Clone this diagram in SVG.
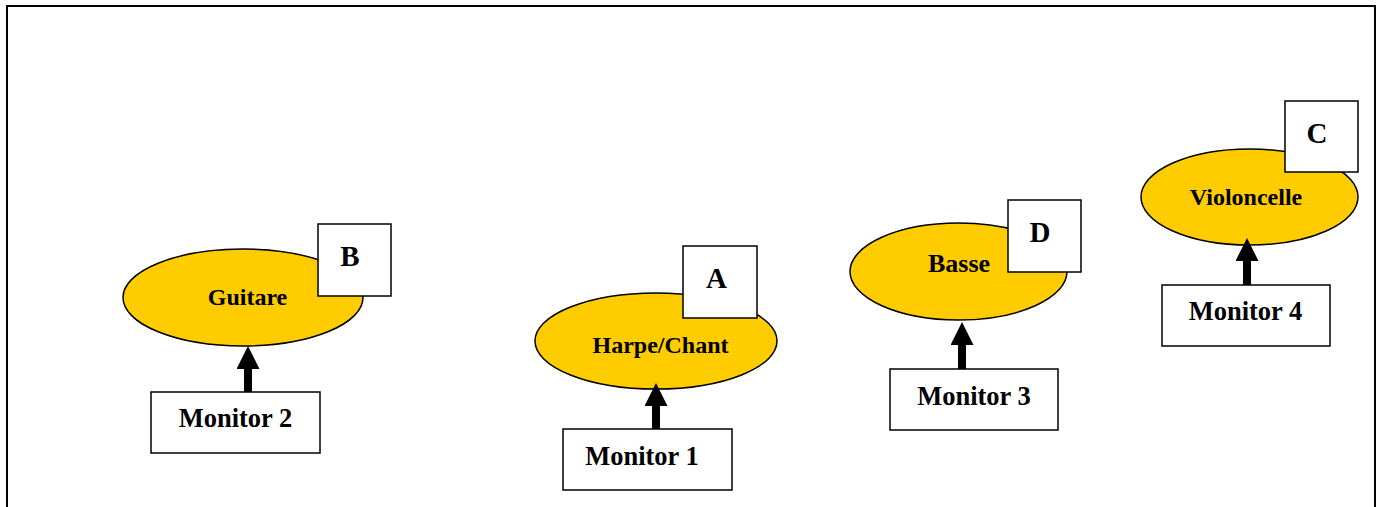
<svg xmlns="http://www.w3.org/2000/svg" width="1381" height="507" viewBox="0 0 1381 507">
<style>
.ell{fill:#FFCC00;stroke:#000;stroke-width:1.5}
.box{fill:#fff;stroke:#000;stroke-width:1.5}
.t{font-family:"Liberation Serif","Times New Roman",serif;font-weight:bold;fill:#000;text-anchor:middle}
.lbl{font-size:24px}
.mon{font-size:26.5px}
.let{font-size:29px}
.conn{stroke:#000;stroke-width:8;fill:none}
</style>
<defs>
<marker id="ah" markerUnits="userSpaceOnUse" markerWidth="23" markerHeight="23" refX="0" refY="11.5" orient="auto">
<path d="M0,0 L23,11.5 L0,23 z" fill="#000"/>
</marker>
</defs>
<rect x="0" y="0" width="1381" height="507" fill="#fff"/>
<rect x="7" y="6" width="1368" height="520" fill="none" stroke="#000" stroke-width="2"/>

<g id="guitare">
<ellipse class="ell" cx="243" cy="297.5" rx="120" ry="48.5"/>
<text class="t lbl" x="247.5" y="305">Guitare</text>
</g>
<g id="labelB">
<rect class="box" x="318" y="224" width="73" height="72"/>
<text class="t let" x="350" y="266">B</text>
</g>
<g id="monitor2">
<rect class="box" x="151" y="392" width="169" height="61"/>
<text class="t mon" x="235.5" y="427">Monitor 2</text>
</g>

<g id="harpe">
<ellipse class="ell" cx="656" cy="341" rx="121" ry="48"/>
<text class="t lbl" x="660.5" y="353">Harpe/Chant</text>
</g>
<g id="labelA">
<rect class="box" x="683" y="246" width="74" height="72"/>
<text class="t let" x="716.5" y="288">A</text>
</g>
<g id="monitor1">
<rect class="box" x="563" y="429" width="169" height="61"/>
<text class="t mon" x="642" y="465">Monitor 1</text>
</g>

<g id="basse">
<ellipse class="ell" cx="958.5" cy="271.5" rx="108.5" ry="48.5"/>
<text class="t lbl" x="959" y="272" style="font-size:26px">Basse</text>
</g>
<g id="labelD">
<rect class="box" x="1008" y="200" width="73" height="72"/>
<text class="t let" x="1040" y="242">D</text>
</g>
<g id="monitor3">
<rect class="box" x="890" y="369" width="168" height="61"/>
<text class="t mon" x="974" y="405">Monitor 3</text>
</g>

<g id="violoncelle">
<ellipse class="ell" cx="1249.5" cy="197" rx="108.5" ry="48"/>
<text class="t lbl" x="1246" y="205">Violoncelle</text>
</g>
<g id="labelC">
<rect class="box" x="1285" y="101" width="73" height="71"/>
<text class="t let" x="1317" y="143">C</text>
</g>
<g id="monitor4">
<rect class="box" x="1162" y="285" width="168" height="61"/>
<text class="t mon" x="1245.5" y="320">Monitor 4</text>
</g>

<g id="connectors">
<line class="conn" x1="248" y1="392" x2="248" y2="369" marker-end="url(#ah)"/>
<line class="conn" x1="656" y1="429" x2="656" y2="406" marker-end="url(#ah)"/>
<line class="conn" x1="962" y1="369" x2="962" y2="345" marker-end="url(#ah)"/>
<line class="conn" x1="1247" y1="285" x2="1247" y2="261" marker-end="url(#ah)"/>
</g>
</svg>
